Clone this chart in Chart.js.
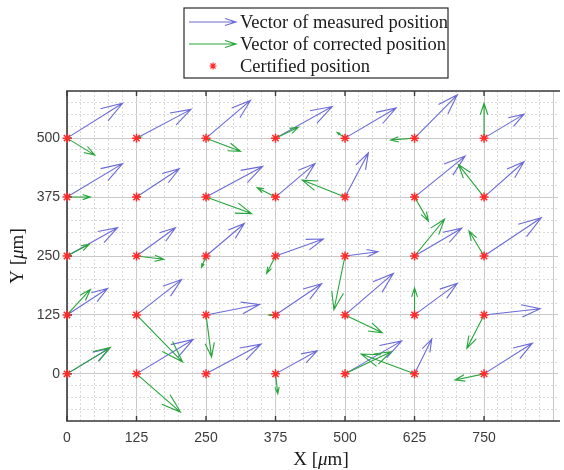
<!DOCTYPE html>
<html>
<head>
<meta charset="utf-8">
<script src="https://cdn.jsdelivr.net/npm/chart.js@4.4.1/dist/chart.umd.min.js"></script>
<style>
  html, body { margin: 0; padding: 0; background: #fff; overflow: hidden; }
  #wrap { position: relative; width: 564px; height: 470px; }
</style>
</head>
<body>
<div id="wrap"><canvas id="quiver" width="564" height="470"></canvas></div>
<script>
// certified grid positions (um)
const posX = [0, 125, 250, 375, 500, 625, 750];
const posY = [0, 125, 250, 375, 500];
const xTickLabels = [0, 125, 250, 375, 500, 625, 750];
const yTickLabels = [0, 125, 250, 375, 500];

// measured position vectors, one row per posY value, one column per posX value
const measuredDX = [
    [76, 102, 99, 75, 102, 31, 87],
    [73, 81, 96, 83, 87, 77, 101],
    [91, 70, 69, 86, 59, 85, 103],
    [100, 77, 102, 71, 42, 91, 72],
    [100, 98, 80, 102, 92, 77, 72]
];
const measuredDY = [
    [54, 73, 63, 49, 70, 74, 65],
    [56, 75, 22, 66, 88, 67, 13],
    [60, 60, 69, 36, 9, 59, 81],
    [71, 60, 65, 71, 94, 87, 75],
    [74, 61, 80, 67, 64, 92, 51]
];

// corrected position vectors
const correctedDX = [
    [78, 79, 3, 4, 83, -96, -52],
    [42, 83, 10, -12, 67, 0, -31],
    [40, 49, -8, -16, -20, 54, -27],
    [42, 6, 82, -33, -77, 25, -46],
    [50, 8, 62, 41, -14, -43, 0]
];
const correctedDY = [
    [56, -81, 2, -42, 47, 42, -13],
    [54, -100, -89, 0, -38, 57, -71],
    [25, -7, -24, -37, -114, 78, 53],
    [0, 1, -35, 20, 36, -51, 69],
    [-36, 2, -28, 23, 12, -4, 74]
];

const legendLabels = ['Vector of measured position', 'Vector of corrected position', 'Certified position'];

const BLUE = '#6a6ad8';
const GREEN = '#25a53a';
const RED = '#ff2b2b';
const AXIS = '#3a3a3a';
const SERIF = "'Liberation Serif', 'Times New Roman', serif";
const SANS = "'Liberation Sans', Arial, sans-serif";

const certified = [];
posY.forEach(yv => posX.forEach(xv => certified.push({ x: xv, y: yv })));

// matlab-like quiver head: alpha = beta = 0.33
function drawArrow(ctx, x0, y0, x1, y1) {
    const u = x1 - x0, v = y1 - y0;
    const a = 0.33, b = 0.33;
    ctx.beginPath();
    ctx.moveTo(x0, y0);
    ctx.lineTo(x1, y1);
    ctx.moveTo(x1 - a * (u + b * v), y1 - a * (v - b * u));
    ctx.lineTo(x1, y1);
    ctx.lineTo(x1 - a * (u - b * v), y1 - a * (v + b * u));
    ctx.stroke();
}

function drawMuLabel(ctx, parts, x, y, size) {
    // parts: [text, italic]
    const widths = parts.map(([t, it]) => {
        ctx.font = (it ? 'italic ' : '') + size + 'px ' + SERIF;
        return ctx.measureText(t).width;
    });
    let cx = x - widths.reduce((s, w) => s + w, 0) / 2;
    parts.forEach(([t, it], i) => {
        ctx.font = (it ? 'italic ' : '') + size + 'px ' + SERIF;
        ctx.fillText(t, cx, y);
        cx += widths[i];
    });
}

const quiverPlugin = {
    id: 'quiver',
    beforeDatasetsDraw(chart) {
        const { ctx, chartArea: ca, scales: { x, y } } = chart;
        ctx.save();

        // axes frame (left, bottom, top)
        ctx.strokeStyle = AXIS;
        ctx.lineWidth = 1.6;
        ctx.beginPath();
        ctx.moveTo(ca.right + 2, ca.top);
        ctx.lineTo(ca.left, ca.top);
        ctx.lineTo(ca.left, ca.bottom);
        ctx.lineTo(ca.right + 2, ca.bottom);
        ctx.stroke();

        // inward ticks
        ctx.lineWidth = 1.4;
        ctx.beginPath();
        xTickLabels.forEach(v => {
            const px = x.getPixelForValue(v);
            ctx.moveTo(px, ca.bottom); ctx.lineTo(px, ca.bottom - 5);
            ctx.moveTo(px, ca.top); ctx.lineTo(px, ca.top + 5);
        });
        yTickLabels.forEach(v => {
            const py = y.getPixelForValue(v);
            ctx.moveTo(ca.left, py); ctx.lineTo(ca.left + 5, py);
        });
        ctx.stroke();

        // vectors
        ctx.lineWidth = 1.1;
        [[measuredDX, measuredDY, BLUE], [correctedDX, correctedDY, GREEN]].forEach(([dx, dy, col]) => {
            ctx.strokeStyle = col;
            posY.forEach((yv, r) => posX.forEach((xv, c) => {
                drawArrow(ctx,
                    x.getPixelForValue(xv), y.getPixelForValue(yv),
                    x.getPixelForValue(xv + dx[r][c]), y.getPixelForValue(yv + dy[r][c]));
            }));
        });
        ctx.restore();
    },
    afterDraw(chart) {
        const { ctx, chartArea: ca } = chart;
        ctx.save();
        ctx.fillStyle = '#1a1a1a';
        ctx.textBaseline = 'middle';

        // axis titles
        drawMuLabel(ctx, [['X [', false], ['\u03bc', true], ['m]', false]], 321, 460, 19);
        ctx.save();
        ctx.translate(18, (ca.top + ca.bottom) / 2);
        ctx.rotate(-Math.PI / 2);
        drawMuLabel(ctx, [['Y [', false], ['\u03bc', true], ['m]', false]], 0, 0, 19);
        ctx.restore();

        // legend box
        const bx = 184, by = 8, bw = 264, bh = 70;
        ctx.fillStyle = '#fff';
        ctx.fillRect(bx, by, bw, bh);
        ctx.strokeStyle = '#2a2a2a';
        ctx.lineWidth = 1.2;
        ctx.strokeRect(bx, by, bw, bh);

        const rows = [22, 44, 66];
        ctx.lineWidth = 1.1;
        ctx.strokeStyle = BLUE;
        ctx.beginPath();
        ctx.moveTo(189, rows[0]); ctx.lineTo(236, rows[0]);
        ctx.moveTo(225, rows[0] - 3.5); ctx.lineTo(236, rows[0]); ctx.lineTo(225, rows[0] + 3.5);
        ctx.stroke();
        ctx.strokeStyle = GREEN;
        ctx.beginPath();
        ctx.moveTo(189, rows[1]); ctx.lineTo(236, rows[1]);
        ctx.moveTo(225, rows[1] - 3.5); ctx.lineTo(236, rows[1]); ctx.lineTo(225, rows[1] + 3.5);
        ctx.stroke();
        ctx.strokeStyle = RED;
        ctx.lineWidth = 1.2;
        ctx.beginPath();
        for (let k = 0; k < 4; k++) {
            const ang = k * Math.PI / 4;
            ctx.moveTo(213 - 3.5 * Math.cos(ang), rows[2] - 3.5 * Math.sin(ang));
            ctx.lineTo(213 + 3.5 * Math.cos(ang), rows[2] + 3.5 * Math.sin(ang));
        }
        ctx.stroke();

        ctx.fillStyle = '#1a1a1a';
        ctx.font = '18.5px ' + SERIF;
        ctx.textAlign = 'left';
        legendLabels.forEach((t, i) => ctx.fillText(t, 240, rows[i] + 1));
        ctx.restore();
    }
};

new Chart(document.getElementById('quiver'), {
    type: 'scatter',
    data: {
        datasets: [{
            label: legendLabels[2],
            data: certified,
            pointStyle: 'star',
            pointRadius: 4.5,
            borderColor: RED,
            backgroundColor: RED,
            borderWidth: 1.5,
            clip: false
        }]
    },
    options: {
        responsive: false,
        animation: false,
        events: [],
        layout: { padding: { top: 91, left: 0, right: 0, bottom: 0 } },
        plugins: { legend: { display: false }, tooltip: { enabled: false } },
        scales: {
            x: {
                type: 'linear',
                min: 0,
                max: 883,
                afterFit(s) { s.height = 49; },
                border: { display: false, dash: c => (c.tick && c.tick.value % 125 === 0) ? [] : [2, 2] },
                grid: {
                    drawTicks: false,
                    lineWidth: 1,
                    color: c => (c.tick && c.tick.value % 125 === 0) ? '#c9c9c9' : '#dadada'
                },
                ticks: {
                    stepSize: 25,
                    maxTicksLimit: 200,
                    includeBounds: false,
                    autoSkip: false,
                    maxRotation: 0,
                    padding: 9,
                    color: '#3c3c3c',
                    font: { family: SANS, size: 14 },
                    callback: v => xTickLabels.includes(v) ? String(v) : ''
                }
            },
            y: {
                type: 'linear',
                min: -100,
                max: 600,
                afterFit(s) { s.width = 67; },
                border: { display: false, dash: c => (c.tick && c.tick.value % 125 === 0) ? [] : [2, 2] },
                grid: {
                    drawTicks: false,
                    lineWidth: 1,
                    color: c => (c.tick && c.tick.value % 125 === 0) ? '#c9c9c9' : '#dadada'
                },
                ticks: {
                    stepSize: 25,
                    maxTicksLimit: 200,
                    autoSkip: false,
                    padding: 7,
                    color: '#3c3c3c',
                    font: { family: SANS, size: 14 },
                    callback: v => yTickLabels.includes(v) ? String(v) : ''
                }
            }
        }
    },
    plugins: [quiverPlugin]
});
</script>
</body>
</html>
